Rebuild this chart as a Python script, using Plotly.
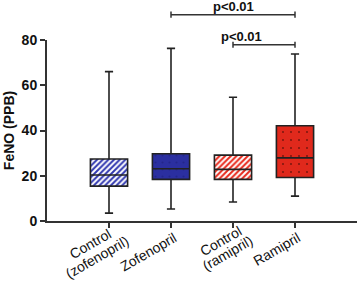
import math
import plotly.graph_objects as go

categories = ["Control<br>(zofenopril)", "Zofenopril", "Control<br>(ramipril)", "Ramipril"]
lower = [3.5, 5.3, 8.4, 11.0]
q1 = [15.4, 18.4, 18.4, 19.2]
median = [20.3, 23.1, 22.8, 27.9]
q3 = [27.4, 29.7, 29.1, 42.1]
upper = [66.0, 76.3, 54.7, 73.8]
y_ticks = [0, 20, 40, 60, 80]
comparisons = [(1, 3, 91.2, "p<0.01"), (2, 3, 77.9, "p<0.01")]

fill_bg = ["white", "#2b2fa0", "white", "#e0291c"]
fill_fg = ["#3138b0", "#23268c", "#e8291c", "#6e140c"]
shapes_p = ["/", ".", "/", "."]
sizes = [4, 7, 4, 8]
solid = [0.5, 0.08, 0.5, 0.04]

XMIN, XMAX, YMIN, YMAX = -1, 4, 0, 80

fig = go.Figure()
for i, c in enumerate(categories):
    fig.add_trace(go.Bar(
        x=[c], y=[q3[i] - q1[i]], base=[q1[i]], width=0.6,
        marker=dict(color=fill_bg[i], line=dict(width=0),
                    pattern=dict(shape=shapes_p[i], fgcolor=fill_fg[i], bgcolor=fill_bg[i],
                                 size=sizes[i], solidity=solid[i], fillmode="replace")),
        hoverinfo="skip", showlegend=False,
    ))
fig.add_trace(go.Box(
    x=categories, q1=q1, median=median, q3=q3, lowerfence=lower, upperfence=upper,
    width=0.6, whiskerwidth=0.22, fillcolor="rgba(0,0,0,0)",
    line=dict(color="#222222", width=1.6), showlegend=False, boxpoints=False,
))

shapes = []
annotations = []
for a, b, yv, txt in comparisons:
    xa = (a - XMIN) / (XMAX - XMIN)
    xb = (b - XMIN) / (XMAX - XMIN)
    yp = (yv - YMIN) / (YMAX - YMIN)
    cap = 0.017
    ln = dict(color="#333333", width=1.5)
    shapes.append(dict(type="line", xref="paper", yref="paper", x0=xa, x1=xb, y0=yp, y1=yp, line=ln))
    shapes.append(dict(type="line", xref="paper", yref="paper", x0=xa, x1=xa, y0=yp - cap, y1=yp + cap, line=ln))
    shapes.append(dict(type="line", xref="paper", yref="paper", x0=xb, x1=xb, y0=yp - cap, y1=yp + cap, line=ln))
    annotations.append(dict(xref="paper", yref="paper", x=(xa + xb) / 2, y=yp, yshift=-1, text="<b>%s</b>" % txt,
                            showarrow=False, yanchor="bottom", font=dict(size=13, color="#111111")))

# rotated, centred multi-line category labels (tight line spacing)
CW = {"C": 722, "o": 556, "n": 556, "t": 278, "r": 333, "l": 222, "(": 333, ")": 333, "z": 500,
      "f": 278, "e": 556, "p": 556, "i": 222, "Z": 611, "a": 556, "m": 833, "R": 722, " ": 278}
FS = 14
ANG = math.radians(30)
LH = 14.5
u = (math.cos(ANG), -math.sin(ANG))   # along text (screen coords, y down)
nv = (math.sin(ANG), math.cos(ANG))   # perpendicular, towards next line
for c in categories:
    lines = c.split("<br>")
    nl = len(lines)
    lmax = max(sum(CW.get(ch, 556) for ch in s) for s in lines) * FS / 1000.0
    ex, ey = 4 + 11 * (nl - 1), 15 - 3 * (nl - 1)
    cx = ex - lmax / 2 * u[0]
    cy = ey - lmax / 2 * u[1]
    for k, s in enumerate(lines):
        off = (k - (nl - 1) / 2) * LH
        px = cx + off * nv[0]
        py = cy + off * nv[1]
        annotations.append(dict(xref="x", yref="paper", x=c, y=0, text=s, showarrow=False,
                                textangle=-30, xanchor="center", yanchor="middle",
                                xshift=px, yshift=-py, font=dict(size=FS, color="#111111")))

fig.update_layout(
    width=358, height=282,
    margin=dict(l=47, r=1, t=40, b=61),
    paper_bgcolor="white", plot_bgcolor="white",
    font=dict(family="Liberation Sans, Arial, sans-serif", color="#111111"),
    barmode="overlay", boxmode="overlay",
    shapes=shapes, annotations=annotations,
    xaxis=dict(type="category", range=[XMIN, XMAX], showgrid=False, zeroline=False, automargin=False,
               showline=True, linecolor="#333333", linewidth=2, showticklabels=False,
               ticks="outside", ticklen=5, tickwidth=1.5, tickcolor="#333333"),
    yaxis=dict(range=[YMIN, YMAX], tickvals=y_ticks, showgrid=False, zeroline=False, automargin=False,
               showline=True, linecolor="#333333", linewidth=2,
               ticks="outside", ticklen=5, tickwidth=1.5, tickcolor="#333333",
               tickfont=dict(size=14), title=dict(text="<b>FeNO (PPB)</b>", font=dict(size=14), standoff=4)),
)
fig.update_yaxes(ticktext=["<b>%d</b>" % v for v in y_ticks])
fig.write_html("out.html", config={"displayModeBar": False},
               post_script="document.body.style.margin='0';document.body.style.overflow='hidden';")
